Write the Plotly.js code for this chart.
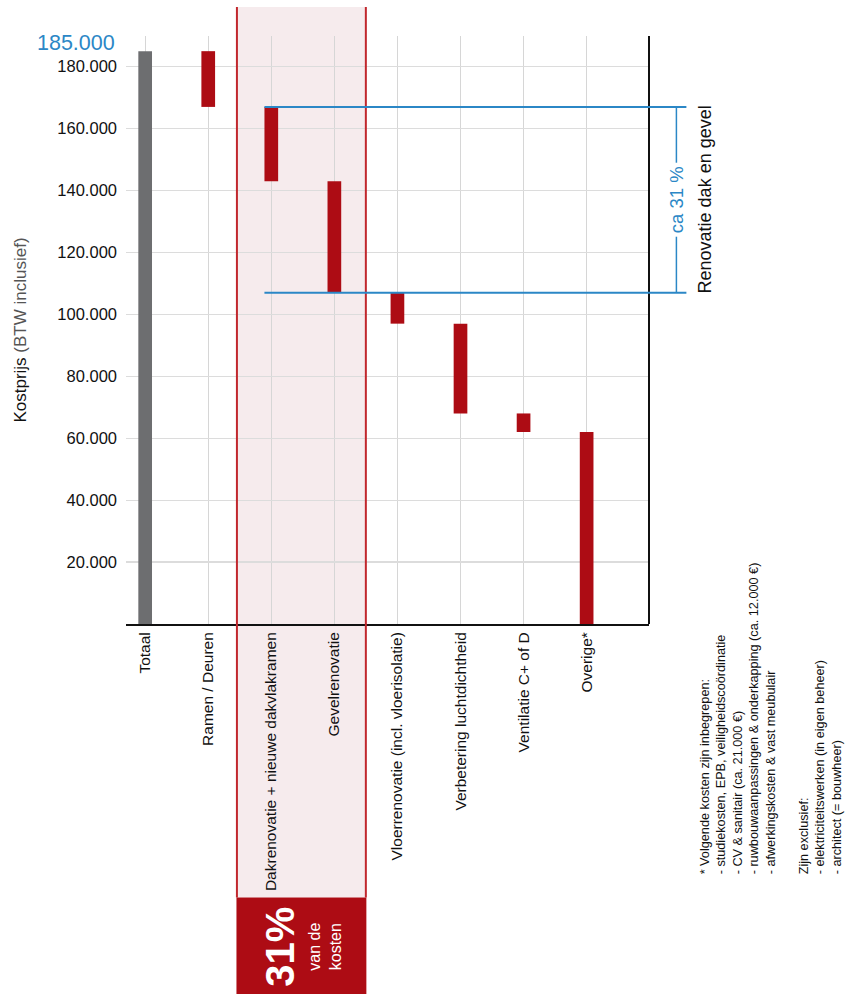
<!DOCTYPE html>
<html>
<head>
<meta charset="utf-8">
<script src="https://cdn.plot.ly/plotly-3.0.1.min.js"></script>
<style>
  html, body { margin: 0; padding: 0; background: #fff; }
  #chart { width: 853px; height: 994px; }
</style>
</head>
<body>
<div id="chart"></div>
<script>
// Renovation cost breakdown (waterfall, VAT included)
const categories = [
  "Totaal",
  "Ramen / Deuren",
  "Dakrenovatie + nieuwe dakvlakramen",
  "Gevelrenovatie",
  "Vloerrenovatie (incl. vloerisolatie)",
  "Verbetering luchtdichtheid",
  "Ventilatie C+ of D",
  "Overige*"
];
const totalCost = 185000;
const itemCosts = [18000, 24000, 36000, 10000, 29000, 6000, 62000];
const yTickValues = [20000, 40000, 60000, 80000, 100000, 120000, 140000, 160000, 180000];
const yTickLabels = ["20.000", "40.000", "60.000", "80.000", "100.000", "120.000", "140.000", "160.000", "180.000"];
const totalLabel = "185.000";
const shareLabel = "ca 31 %";
const shareTitle = "Renovatie dak en gevel";
const footnoteLines = [
  "* Volgende kosten zijn inbegrepen:",
  "- studiekosten, EPB, veiligheidscoördinatie",
  "- CV & sanitair (ca. 21.000 €)",
  "- ruwbouwaanpassingen & onderkapping (ca. 12.000 €)",
  "- afwerkingskosten & vast meubulair",
  " ",
  "Zijn exclusief:",
  "- elektriciteitswerken (in eigen beheer)",
  "- architect (= bouwheer)"
];

const FONT = '"Liberation Sans", Arial, Helvetica, sans-serif';
const RED = "#ad0c14";
const GREY = "#6d6e70";
const BLUE = "#2b87c6";
const PINK = "#f6ebed";
const EDGE = "#c1272d";

// bracket levels: top of roof item, bottom of facade item
const roofTop = totalCost - itemCosts[0];
const facadeBottom = roofTop - itemCosts[1] - itemCosts[2];
const bracketMid = (roofTop + facadeBottom) / 2;

const measures = ["absolute"].concat(itemCosts.map(() => "relative"));
const values = [totalCost].concat(itemCosts.map(v => -v));

const trace = {
  type: "waterfall",
  x: categories,
  y: values,
  measure: measures,
  width: 0.217,
  connector: { visible: false },
  decreasing: { marker: { color: RED } },
  increasing: { marker: { color: RED } },
  totals: { marker: { color: GREY } },
  textinfo: "none",
  hoverinfo: "x+y"
};

const layout = {
  width: 853,
  height: 994,
  margin: { l: 126, r: 204, t: 36, b: 370 },
  paper_bgcolor: "#ffffff",
  plot_bgcolor: "rgba(0,0,0,0)",
  showlegend: false,
  font: { family: FONT, color: "#111", size: 16 },
  xaxis: {
    type: "category",
    range: [-0.304, 7.989],
    tickangle: -90,
    tickfont: { family: FONT, size: 15.5, color: "#111" },
    showgrid: true,
    gridcolor: "#d6d6d6",
    gridwidth: 1,
    showline: true,
    linecolor: "#111",
    linewidth: 2,
    ticks: "",
    zeroline: false,
    fixedrange: true
  },
  yaxis: {
    range: [0, 189900],
    tickvals: yTickValues,
    ticktext: yTickLabels,
    tickfont: { family: FONT, size: 16.5, color: "#111" },
    showgrid: true,
    gridcolor: "#dcdcdc",
    gridwidth: 1.3,
    showline: false,
    zeroline: false,
    ticks: "",
    ticklabelstandoff: 8,
    title: {
      text: 'Kostprijs <span style="fill:#555">(BTW inclusief)</span>',
      font: { family: FONT, size: 17, color: "#111" },
      standoff: 26
    },
    fixedrange: true
  },
  shapes: [
    // highlighted roof + facade band
    { type: "rect", xref: "paper", yref: "paper", x0: 0.2121, x1: 0.4586, y0: -0.465, y1: 1.0494,
      fillcolor: PINK, line: { width: 0 }, layer: "below" },
    { type: "line", xref: "paper", yref: "paper", x0: 0.2121, x1: 0.2121, y0: -0.465, y1: 1.0494,
      line: { color: EDGE, width: 2 } },
    { type: "line", xref: "paper", yref: "paper", x0: 0.4586, x1: 0.4586, y0: -0.465, y1: 1.0494,
      line: { color: EDGE, width: 2 } },
    { type: "rect", xref: "paper", yref: "paper", x0: 0.2112, x1: 0.4596, y0: -0.465, y1: -0.66,
      fillcolor: RED, line: { width: 0 } },
    // right frame line
    { type: "line", xref: "paper", yref: "paper", x0: 1, x1: 1, y0: 0, y1: 1,
      line: { color: "#111", width: 2 } },
    // bracket lines
    { type: "line", xref: "paper", yref: "y", x0: 0.2647, x1: 1.0715, y0: roofTop, y1: roofTop,
      line: { color: BLUE, width: 2 } },
    { type: "line", xref: "paper", yref: "y", x0: 0.2647, x1: 1.0715, y0: facadeBottom, y1: facadeBottom,
      line: { color: BLUE, width: 2 } },
    { type: "line", xref: "paper", yref: "y", x0: 1.0524, x1: 1.0524, y0: roofTop, y1: facadeBottom,
      line: { color: BLUE, width: 1.5 } }
  ],
  annotations: [
    { text: totalLabel, xref: "paper", yref: "y", x: -0.0172, y: totalCost, xanchor: "right", yanchor: "middle",
      yshift: 8, showarrow: false, font: { family: FONT, size: 21.5, color: BLUE } },
    { text: shareLabel, xref: "paper", yref: "y", x: 1.0524, y: bracketMid, xanchor: "center", yanchor: "middle",
      textangle: -90, showarrow: false, bgcolor: "#ffffff", borderpad: 3,
      font: { family: FONT, size: 18.5, color: BLUE } },
    { text: shareTitle, xref: "paper", yref: "y", x: 1.1064, y: bracketMid, xanchor: "center", yanchor: "middle",
      textangle: -90, showarrow: false, font: { family: FONT, size: 18, color: "#111" } },
    { text: "<b>31%</b>", xref: "paper", yref: "paper", x: 0.2943, y: -0.549, xanchor: "center", yanchor: "middle",
      textangle: -90, showarrow: false, font: { family: FONT, size: 40, color: "#ffffff" } },
    { text: "van de<br>kosten", xref: "paper", yref: "paper", x: 0.3803, y: -0.549, xanchor: "center", yanchor: "middle",
      textangle: -90, showarrow: false, font: { family: FONT, size: 16, color: "#ffffff" } },
    { text: footnoteLines.join("<br>"), xref: "paper", yref: "paper", x: 1.2326, y: -0.4298,
      xanchor: "center", yanchor: "bottom", align: "left", textangle: -90,
      showarrow: false, font: { family: FONT, size: 12.7, color: "#111" } }
  ]
};

Plotly.newPlot("chart", [trace], layout, { displayModeBar: false, staticPlot: true });
</script>
</body>
</html>
